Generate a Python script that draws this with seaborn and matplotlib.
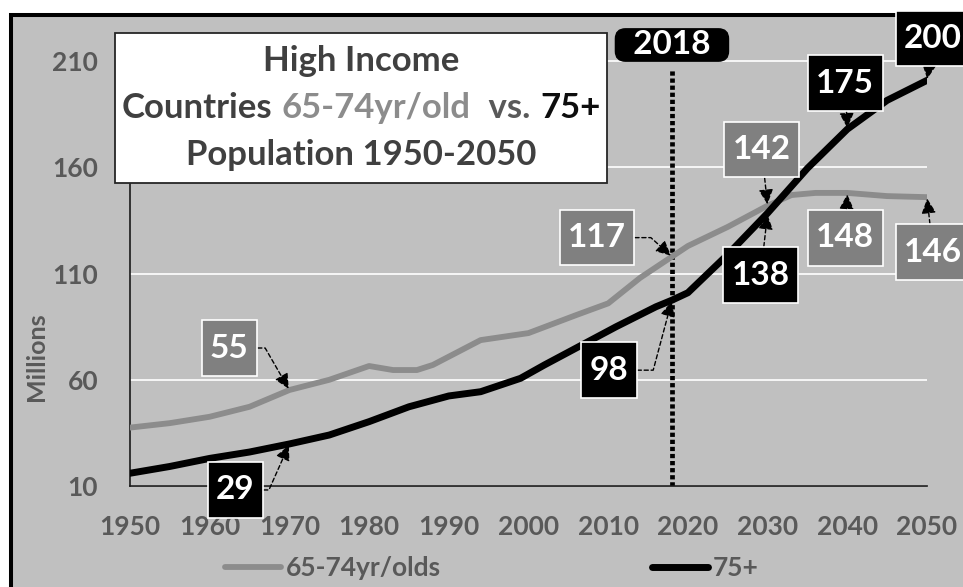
import matplotlib
matplotlib.use("Agg")
import matplotlib.pyplot as plt
import seaborn as sns
import numpy as np
import pandas as pd
from matplotlib.patches import Rectangle
from matplotlib.path import Path
from matplotlib.offsetbox import TextArea, HPacker, VPacker, AnnotationBbox

# ---------------- data ----------------
years_6574 = [1950, 1955, 1960, 1965, 1970, 1975, 1980, 1983, 1986, 1988, 1994, 2000,
              2006, 2010, 2014, 2018, 2020, 2025, 2030, 2033, 2036, 2040, 2045, 2050]
pop_6574 = [37.5, 39.6, 42.6, 47.3, 55.2, 60.0, 66.5, 64.6, 64.6, 67.0, 78.7, 82.0,
            90.5, 96.0, 108.0, 118.0, 123.0, 132.0, 142.0, 147.0, 148.0, 148.0, 146.5, 146.0]

years_75 = [1950, 1955, 1960, 1965, 1970, 1975, 1980, 1985, 1990, 1994, 1999, 2002,
            2006, 2011, 2016, 2018, 2020, 2025, 2030, 2035, 2040, 2045, 2050]
pop_75 = [16.0, 19.2, 23.0, 26.0, 29.8, 34.0, 40.3, 47.3, 52.4, 54.4, 60.7, 67.0,
          75.0, 85.0, 94.4, 97.5, 101.0, 119.0, 138.5, 159.6, 178.0, 191.6, 201.0]

label_years_6574 = [1970, 2018, 2030, 2040, 2050]
label_vals_6574 = [55, 117, 142, 148, 146]
label_years_75 = [1970, 2018, 2030, 2040, 2050]
label_vals_75 = [29, 98, 138, 175, 200]

marker_year = 2018
yticks = [10, 60, 110, 160, 210]
xticks = [1950, 1960, 1970, 1980, 1990, 2000, 2010, 2020, 2030, 2040, 2050]
series_names = ["65-74yr/olds", "75+"]

# ---------------- style ----------------
sns.set_style("white")
plt.rcParams["font.family"] = ["Lato", "DejaVu Sans"]
plt.rcParams["font.weight"] = "bold"

BG = "#c0c0c0"
GRAY_LINE = "#8c8c8c"
GRAY_BOX = "#808080"
TXT = "#595959"

W, H = 963, 587
fig = plt.figure(figsize=(W / 100, H / 100), dpi=100, facecolor="white")

# outer chart frame
fig.patches.append(Rectangle((11 / W, -0.2), 2.0, (H - 14.5) / H + 0.2,
                             transform=fig.transFigure, facecolor=BG,
                             edgecolor="black", lw=2.9, zorder=-10))

ax = fig.add_axes([130 / W, (H - 486) / H, 797 / W, 446 / H])
ax.set_facecolor("none")

df6574 = pd.DataFrame({"year": years_6574, "value": pop_6574})
df75 = pd.DataFrame({"year": years_75, "value": pop_75})

sns.lineplot(data=df6574, x="year", y="value", color=GRAY_LINE, lw=4.2,
             label=series_names[0], ax=ax, solid_capstyle="round",
             solid_joinstyle="round", zorder=3)
sns.lineplot(data=df75, x="year", y="value", color="black", lw=5.0,
             label=series_names[1], ax=ax, solid_capstyle="round",
             solid_joinstyle="round", zorder=4)

ax.set_xlim(1950, 2050)
ax.set_ylim(10, 220)
ax.set_xticks(xticks)
ax.set_yticks(yticks)
ax.tick_params(axis="both", length=0, labelsize=19, labelcolor=TXT)
ax.tick_params(axis="y", pad=23)
ax.tick_params(axis="x", pad=21)
for lab in ax.get_xticklabels() + ax.get_yticklabels():
    lab.set_fontweight("bold")
ax.yaxis.grid(True, color="white", lw=1.2)
ax.xaxis.grid(False)
ax.set_axisbelow(True)
for s in ["top", "right"]:
    ax.spines[s].set_visible(False)
for s in ["left", "bottom"]:
    ax.spines[s].set_color("#1a1a1a")
    ax.spines[s].set_linewidth(1.2)
    ax.spines[s].set_zorder(2.5)

ax.set_xlabel("")
ax.set_ylabel("Millions", fontsize=18, fontweight="bold", color=TXT, va="center")
ax.yaxis.set_label_coords((36 - 130) / 797, (486 - 357) / 446)


def rect_box(padx, pady):
    """Rectangular box style with separate horizontal / vertical padding."""
    def box(x0, y0, width, height, mutation_size):
        px = padx * mutation_size
        py = pady * mutation_size
        x0, y0 = x0 - px, y0 - py
        w, h = width + 2 * px, height + 2 * py
        return Path([(x0, y0), (x0 + w, y0), (x0 + w, y0 + h), (x0, y0 + h), (x0, y0)],
                    closed=True)
    return box


# 2018 marker line and label
ax.axvline(marker_year, ymin=0, ymax=(486 - 70) / 446, color="black", lw=3.4,
           linestyle=(0, (0.9, 0.6)), zorder=2)
ax.text(marker_year, (486 - 45) / 446, "  2018  ", transform=ax.get_xaxis_transform(),
        ha="center", va="center", fontsize=24, fontweight="bold", color="white",
        bbox=dict(boxstyle="round,pad=0.05,rounding_size=0.3", fc="black", ec="black"),
        zorder=6)


# value labels
def lookup(xs, ys, yr):
    return ys[xs.index(yr)]


gray_offsets = [(-60, 42), (-75, 19), (-6, 56), (-2, -45), (6, -55)]
gray_conn = ["angle,angleA=0,angleB=-60,rad=0", "angle,angleA=0,angleB=-42,rad=0",
             "arc3", "arc3", "arc3"]
black_offsets = [(-54, -46), (-63, -70), (-7, -62), (-2, 46), (6, 42)]
black_conn = ["angle,angleA=0,angleB=66,rad=0", "angle,angleA=0,angleB=75,rad=0",
              "arc3", "arc3", "arc3"]


def add_label(yr, txtval, yval, off, conn, fc):
    ax.annotate(str(txtval), xy=(yr, yval), xytext=off, textcoords="offset pixels",
                ha="center", va="center", fontsize=24, fontweight="bold", color="white",
                bbox=dict(boxstyle=rect_box(0.25, 0.40), fc=fc, ec="white", lw=1.2),
                arrowprops=dict(arrowstyle="-|>,head_length=0.45,head_width=0.22",
                                color="black", lw=1.0, linestyle=(0, (3, 2)),
                                connectionstyle=conn, shrinkA=0, shrinkB=1,
                                mutation_scale=20),
                zorder=7, annotation_clip=False)


for yr, v, off, conn in zip(label_years_6574, label_vals_6574, gray_offsets, gray_conn):
    add_label(yr, v, lookup(years_6574, pop_6574, yr), off, conn, GRAY_BOX)
for yr, v, off, conn in zip(label_years_75, label_vals_75, black_offsets, black_conn):
    add_label(yr, v, lookup(years_75, pop_75, yr), off, conn, "black")

# title box
tp = dict(fontsize=25, fontweight="bold", family=["Lato", "DejaVu Sans"])
line1 = TextArea("High Income", textprops=dict(color="#404040", **tp))
line2 = HPacker(children=[
    TextArea("Countries", textprops=dict(color="#404040", **tp)),
    TextArea("65-74yr/old", textprops=dict(color=GRAY_LINE, **tp)),
    TextArea(" vs.", textprops=dict(color=TXT, **tp)),
    TextArea("75+", textprops=dict(color="#0d0d0d", **tp)),
], align="baseline", pad=0, sep=7)
line3 = TextArea("Population 1950-2050", textprops=dict(color="#404040", **tp))
title_box = VPacker(children=[line1, line2, line3], align="center", pad=0, sep=10.5)
ab = AnnotationBbox(title_box, (361, H - 108), xycoords="figure pixels",
                    box_alignment=(0.5, 0.5), frameon=True,
                    bboxprops=dict(boxstyle=rect_box(0.45, 0.88), fc="white",
                                   ec="#262626", lw=1.3))
ab.set_zorder(8)
fig.add_artist(ab)

# legend
handles, labels = ax.get_legend_handles_labels()
ax.legend(handles, labels, loc="center", bbox_to_anchor=(492 / W, 19 / H),
          bbox_transform=fig.transFigure, ncol=2, frameon=False,
          handlelength=2.1, handletextpad=0.2, columnspacing=8.0,
          prop=dict(size=19, weight="bold", family=["Lato", "DejaVu Sans"]),
          labelcolor=TXT)

fig.savefig("out.png", dpi=100, facecolor="white")
